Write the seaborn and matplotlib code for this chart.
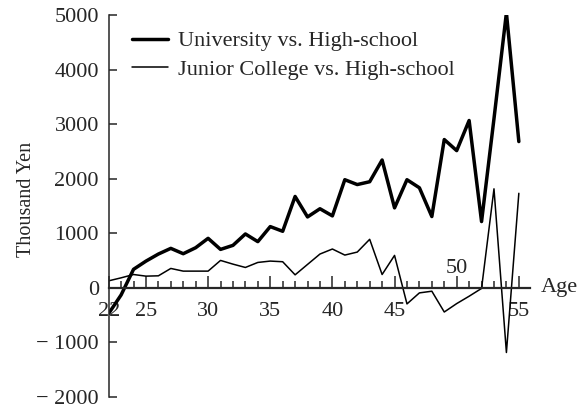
import seaborn as sns
from matplotlib import pyplot as plt
from matplotlib.ticker import MultipleLocator
import pandas as pd

ages = list(range(22, 56))
university = [-470, -130, 340, 490, 620, 724, 626, 736, 908, 705,
              779, 988, 847, 1123, 1037, 1675, 1300, 1450, 1319, 1982,
              1893, 1945, 2343, 1466, 1982, 1834, 1307, 2718, 2515, 3067,
              1215, 3100, 5040, 2681]
junior = [129, 184, 245, 215, 221, 356, 307, 307, 307, 503,
          435, 374, 466, 491, 479, 239, 430, 620, 712, 601,
          656, 890, 245, 595, -294, -92, -61, -442, -288, -153,
          -10, 1815, -1184, 1733]
xtick_vals = [22, 25, 30, 35, 40, 45, 50, 55]
xtick_text = ['22', '25', '30', '35', '40', '45', '', '55']
ytick_vals = [-2000, -1000, 0, 1000, 2000, 3000, 4000, 5000]
ytick_text = ['\u2212 2000', '\u2212 1000', '0', '1000', '2000', '3000', '4000', '5000']

df = pd.DataFrame({'age': ages, 'univ': university, 'junior': junior})

sns.set_style("ticks")
plt.rcParams['font.family'] = ['Liberation Serif', 'DejaVu Serif']

fig = plt.figure(figsize=(5.78, 4.11), dpi=100)
ax = fig.add_axes([0.188, 0.034, 0.729, 0.9295])

sns.lineplot(x='age', y='univ', data=df, color='black', linewidth=2.5, ax=ax,
             label='University vs. High-school')
sns.lineplot(x='age', y='junior', data=df, color='black', linewidth=1.1, ax=ax,
             label='Junior College vs. High-school')

ax.set_xlim(22, 55.9)
ax.set_ylim(-2000, 5000)

ax.spines['top'].set_visible(False)
ax.spines['right'].set_visible(False)
ax.spines['bottom'].set_position(('data', 0))
ax.spines['bottom'].set_linewidth(1.6)
ax.spines['left'].set_linewidth(1.1)

ax.set_xticks(xtick_vals)
ax.set_xticklabels(xtick_text)
ax.xaxis.set_minor_locator(MultipleLocator(1))
ax.tick_params(axis='x', which='major', direction='in', length=9, width=1.1,
               labelsize=16, pad=10)
ax.tick_params(axis='x', which='minor', direction='in', length=5, width=1.1)
ax.set_yticks(ytick_vals)
ax.set_yticklabels(ytick_text)
ax.tick_params(axis='y', direction='in', length=6, width=1.1, labelsize=16, pad=7)

ax.annotate('50', xy=(50, 0), xytext=(0, 7), textcoords='offset points',
            ha='center', va='bottom', fontsize=16)
ax.annotate('Age', xy=(55.9, 0), xytext=(8, 0), textcoords='offset points',
            ha='left', va='center', fontsize=16)

ax.set_xlabel('')
ax.set_ylabel('Thousand Yen', fontsize=14.5)
ax.yaxis.set_label_coords(-0.172, 0.516)

ax.legend(loc='upper left', bbox_to_anchor=(0.228, 0.925), bbox_transform=fig.transFigure,
          frameon=False, fontsize=16, handlelength=1.65, handletextpad=0.45,
          labelspacing=0.35, borderpad=0, borderaxespad=0)

fig.savefig('out.png', dpi=100)
